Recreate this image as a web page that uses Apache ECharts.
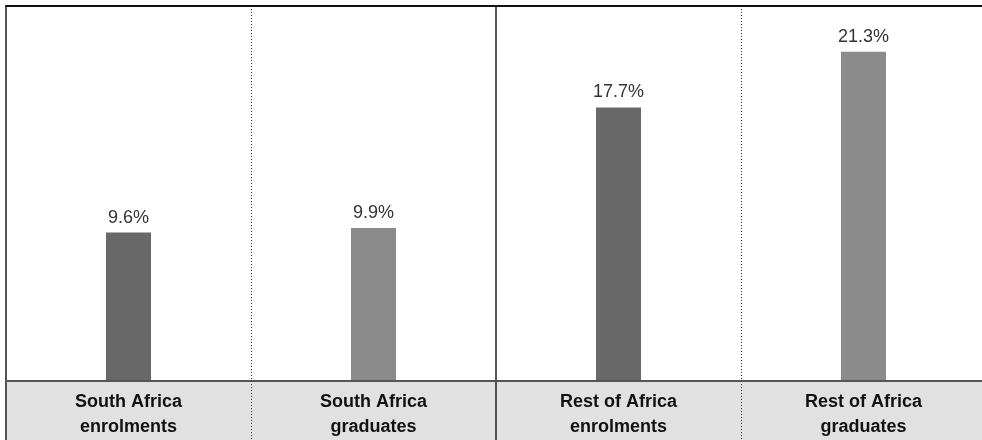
<!DOCTYPE html>
<html>
<head>
<meta charset="utf-8">
<script src="https://cdn.jsdelivr.net/npm/echarts@6/dist/echarts.min.js"></script>
<style>
html,body{margin:0;padding:0;background:#fff;}
#chart{width:982px;height:440px;}
</style>
</head>
<body>
<div id="chart"></div>
<script>
var categories = ['South Africa\nenrolments', 'South Africa\ngraduates', 'Rest of Africa\nenrolments', 'Rest of Africa\ngraduates'];
var regions = ['South Africa', 'Rest of Africa'];
var values = [9.6, 9.9, 17.7, 21.3];

var FONT = '"Liberation Sans", Arial, Helvetica, sans-serif';
var chart = echarts.init(document.getElementById('chart'), null, {renderer: 'canvas'});

chart.setOption({
  animation: false,
  backgroundColor: '#ffffff',
  graphic: [{
    type: 'rect',
    z: 1,
    shape: {x: 6, y: 381, width: 980, height: 59},
    style: {fill: '#e1e1e1'}
  }],
  grid: [
    {left: 6, width: 980, top: 10, bottom: 59, outerBoundsMode: 'none', containLabel: false},
    {left: 6, width: 980, top: 6, height: 440, outerBoundsMode: 'none', containLabel: false}
  ],
  xAxis: [
    {
      type: 'category', gridIndex: 0, data: categories,
      z: 5,
      axisLine: {show: true, onZero: false, lineStyle: {color: '#555', width: 2}},
      axisTick: {show: false},
      splitLine: {show: false},
      axisLabel: {
        show: true, margin: 9, interval: 0,
        fontFamily: FONT, fontSize: 18, fontWeight: 'bold',
        color: '#111', lineHeight: 25
      }
    },
    {
      type: 'category', gridIndex: 1, data: categories, position: 'top',
      z: 4,
      axisLine: {show: true, onZero: false, lineStyle: {color: '#111', width: 2}},
      axisTick: {show: false},
      axisLabel: {show: false},
      splitLine: {show: true, interval: 0, lineStyle: {color: '#333', width: 1, type: [1, 2]}}
    },
    {
      type: 'category', gridIndex: 1, data: regions, position: 'top',
      z: 4,
      axisLine: {show: false},
      axisTick: {show: false},
      axisLabel: {show: false},
      splitLine: {show: true, interval: 0, lineStyle: {color: '#555', width: 2, type: 'solid'}}
    }
  ],
  yAxis: [
    {type: 'value', gridIndex: 0, min: 0, max: 24, show: false, splitLine: {show: false}},
    {type: 'value', gridIndex: 1, min: 0, max: 1, show: false, splitLine: {show: false}}
  ],
  series: [{
    type: 'bar',
    xAxisIndex: 0, yAxisIndex: 0,
    data: values,
    barWidth: 45,
    itemStyle: {
      color: function (p) { return p.dataIndex % 2 === 0 ? '#686868' : '#8b8b8b'; }
    },
    label: {
      show: true, position: 'top', distance: 6,
      formatter: function (p) { return p.value.toFixed(1) + '%'; },
      fontFamily: FONT, fontSize: 18, color: '#333'
    }
  }]
});
</script>
</body>
</html>
